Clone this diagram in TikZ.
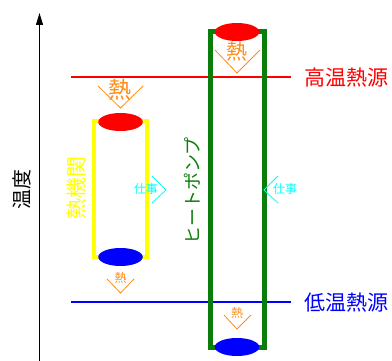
\documentclass[tikz,border=0pt]{standalone}
\usepackage{fontspec}
\newfontfamily\jp{Noto Sans CJK JP}
\usetikzlibrary{shapes.geometric,arrows.meta}
\definecolor{hotred}{RGB}{255,0,0}
\definecolor{coldblue}{RGB}{0,0,255}
\definecolor{pumpgreen}{RGB}{10,125,10}
\definecolor{engyellow}{RGB}{255,255,0}
\definecolor{heatorange}{RGB}{255,140,20}
\definecolor{workcyan}{RGB}{0,255,255}
\tikzset{
  jpfont/.style={font=\jp\fontsize{#1}{#1}\selectfont},
  lbl/.style={inner sep=0pt, outer sep=0pt},
  res/.style={ellipse, inner sep=0pt, minimum width=44.5pt, minimum height=18pt},
  chev/.style={heatorange, line width=0.8pt},
  workchev/.style={workcyan, line width=0.8pt},
  level/.style={line width=1.6pt}
}
\begin{document}
\begin{tikzpicture}[x=1pt,y=-1pt]
\useasboundingbox (0,0) rectangle (392,361);
% temperature axis
\coordinate (axb) at (39.5,361);
\coordinate (axt) at (39.5,13);
\draw[line width=1pt,-{Triangle[length=12pt,width=7pt]}] (axb) -- (axt);
\node[lbl, jpfont=20, rotate=90] (temp) at (22,190) {温度};
% reservoirs
\coordinate (hotL) at (71,77);
\coordinate (hotR) at (291,77);
\coordinate (coldL) at (71,302);
\coordinate (coldR) at (291,302);
\draw[level, hotred] (hotL) -- (hotR);
\draw[level, coldblue] (coldL) -- (coldR);
\node[lbl, jpfont=21, hotred, anchor=west] (hotlbl) at (305,78) {高温熱源};
\node[lbl, jpfont=21, coldblue, anchor=west] (coldlbl) at (305,303) {低温熱源};
% heat engine
\draw[engyellow, line width=4pt] (94,121) rectangle (147,257);
\node[res, fill=hotred] (eh) at (120.5,122) {};
\node[res, fill=coldblue] (ec) at (120.5,257) {};
\node[lbl, jpfont=21, engyellow, rotate=90] (englbl) at (77,188) {熱機関};
% heat pump
\draw[pumpgreen, line width=5pt] (210.5,32) rectangle (264.5,348);
\node[res, fill=hotred] (ph) at (237,32) {};
\node[res, fill=coldblue] (pc) at (237,347) {};
\node[lbl, jpfont=18, pumpgreen, rotate=90] (pumplbl) at (192,191) {ヒートポンプ};
% heat flows
\draw[chev] (98,86) -- (120.5,108) -- (143,86);
\node[lbl, jpfont=23, heatorange] (q1) at (120.5,90) {熱};
\draw[chev] (215,50) -- (237,73) -- (260,50);
\node[lbl, jpfont=21, heatorange] (q2) at (237,52) {熱};
\draw[chev] (107,279) -- (120.5,293) -- (134,279);
\node[lbl, jpfont=12, heatorange] (q3) at (120.5,278) {熱};
\draw[chev] (224,315) -- (237,329) -- (251,315);
\node[lbl, jpfont=12, heatorange] (q4) at (237,313) {熱};
% work
\draw[workchev] (152,176) -- (166,190) -- (152,203);
\node[lbl, jpfont=12, workcyan] (w1) at (146,189) {仕事};
\draw[workchev] (278,176) -- (264,190) -- (278,203);
\node[lbl, jpfont=12, workcyan] (w2) at (285,189) {仕事};
\end{tikzpicture}
\end{document}
